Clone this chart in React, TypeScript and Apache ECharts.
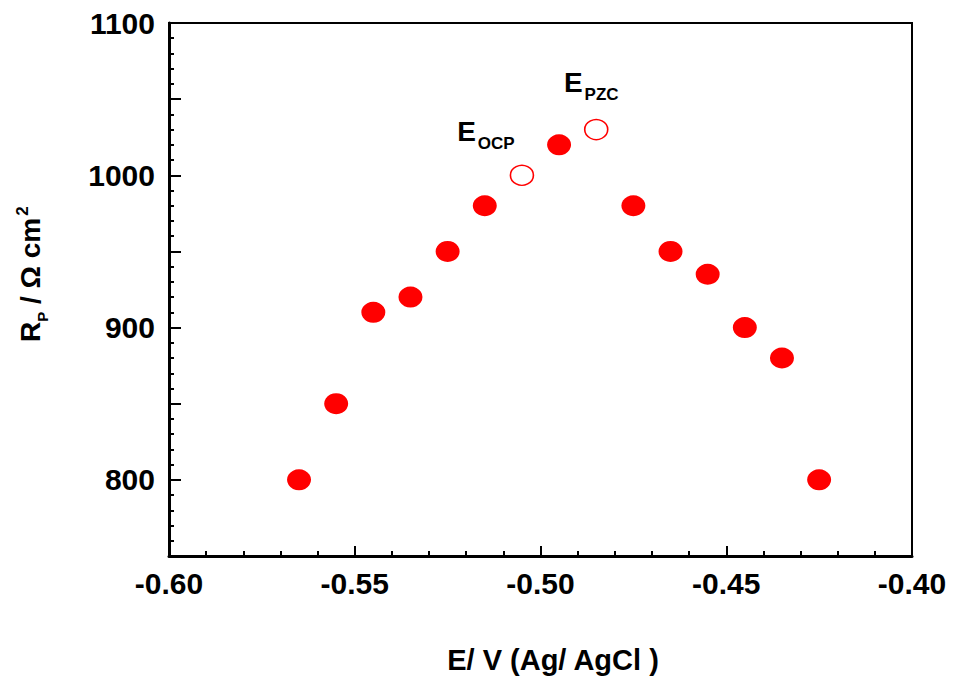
import React, { useEffect, useRef } from "react";
import * as echarts from "echarts";

// Polarization resistance vs. applied potential
const potentials = [-0.565, -0.555, -0.545, -0.535, -0.525, -0.515, -0.495, -0.475, -0.465, -0.455, -0.445, -0.435, -0.425];
const rpValues = [800, 850, 910, 920, 950, 980, 1020, 980, 950, 935, 900, 880, 800];

// Special potentials shown as open circles
const specialNames = ["OCP", "PZC"];
const specialPotentials = [-0.505, -0.485];
const specialRp = [1000, 1030];
const specialLabelOffsets = [[-36, -7], [-5, -10]];

const xTicks = { min: -0.6, max: -0.4, interval: 0.05 };
const yTicks = { min: 750, max: 1100, interval: 50 };

const FONT = "'Liberation Sans', Arial, sans-serif";
const RED = "#ff0000";

export default function App() {
  const ref = useRef<HTMLDivElement>(null);

  useEffect(() => {
    if (!ref.current) return;
    const chart = echarts.init(ref.current, null, { renderer: "svg" });

    const axisLabel = { fontFamily: FONT, fontWeight: "bold", fontSize: 30, color: "#000" };

    chart.setOption({
      animation: false,
      backgroundColor: "#fff",
      grid: {
        left: 169,
        top: 23,
        right: 43,
        bottom: 121,
        show: true,
        borderColor: "#000",
        borderWidth: 2,
        backgroundColor: "transparent",
      },
      xAxis: {
        type: "value",
        min: xTicks.min,
        max: xTicks.max,
        interval: xTicks.interval,
        axisLine: { show: true, onZero: false, lineStyle: { color: "#000", width: 3 } },
        axisTick: { show: true, inside: true, length: 10, lineStyle: { color: "#000", width: 2 } },
        minorTick: { show: true, splitNumber: 5, length: 5, lineStyle: { color: "#000", width: 2 } },
        splitLine: { show: false },
        axisLabel: { ...axisLabel, margin: 12, formatter: (v: number) => v.toFixed(2) },
      },
      yAxis: {
        type: "value",
        min: yTicks.min,
        max: yTicks.max,
        interval: yTicks.interval,
        axisLine: { show: true, onZero: false, lineStyle: { color: "#000", width: 3 } },
        axisTick: { show: true, inside: true, length: 12, lineStyle: { color: "#000", width: 2 } },
        minorTick: { show: true, splitNumber: 5, length: 5, lineStyle: { color: "#000", width: 2 } },
        splitLine: { show: false },
        axisLabel: {
          ...axisLabel,
          margin: 14,
          formatter: (v: number) => (v % 100 === 0 ? String(v) : ""),
        },
      },
      graphic: [
        {
          type: "text",
          x: 553,
          y: 660,
          style: {
            text: "E/ V (Ag/ AgCl )",
            font: `bold 29px ${FONT}`,
            fill: "#000",
            align: "center",
            verticalAlign: "middle",
          },
        },
        {
          type: "text",
          x: 14,
          y: 342,
          rotation: Math.PI / 2,
          style: {
            text: "{r|R}{p|P}{n| / Ω cm}{s|2}",
            fill: "#000",
            rich: {
              r: { fontFamily: FONT, fontWeight: "bold", fontSize: 28, verticalAlign: "bottom", lineHeight: 30 },
              p: { fontFamily: FONT, fontWeight: "bold", fontSize: 15, verticalAlign: "bottom", padding: [0, 0, -6, 0], lineHeight: 30 },
              n: { fontFamily: FONT, fontWeight: "bold", fontSize: 28, verticalAlign: "bottom", lineHeight: 30 },
              s: { fontFamily: FONT, fontWeight: "bold", fontSize: 17, verticalAlign: "top", padding: [0, 0, 14, 2], lineHeight: 30 },
            },
          },
        },
      ],
      series: [
        {
          type: "scatter",
          data: potentials.map((p, i) => [p, rpValues[i]]),
          symbol: "circle",
          symbolSize: [24, 21],
          itemStyle: { color: RED, opacity: 1 },
          z: 3,
        },
        {
          type: "scatter",
          data: specialPotentials.map((p, i) => ({
            value: [p, specialRp[i]],
            name: specialNames[i],
            label: { offset: specialLabelOffsets[i] },
          })),
          symbol: "circle",
          symbolSize: [23, 20],
          itemStyle: { color: "#fff", borderColor: RED, borderWidth: 1.5, opacity: 1 },
          label: {
            show: true,
            position: "top",
            distance: 12,
            formatter: (p: any) => `{e|E}{s|${p.name}}`,
            rich: {
              e: { fontFamily: FONT, fontWeight: "bold", fontSize: 28, color: "#000", verticalAlign: "bottom", lineHeight: 30 },
              s: { fontFamily: FONT, fontWeight: "bold", fontSize: 17, color: "#000", verticalAlign: "bottom", padding: [0, 0, -6, 2], lineHeight: 30 },
            },
          },
          z: 3,
        },
      ],
    });

    return () => chart.dispose();
  }, []);

  return (
    <div
      ref={ref}
      style={{ position: "absolute", left: 0, top: 0, width: 955, height: 677 }}
    />
  );
}
